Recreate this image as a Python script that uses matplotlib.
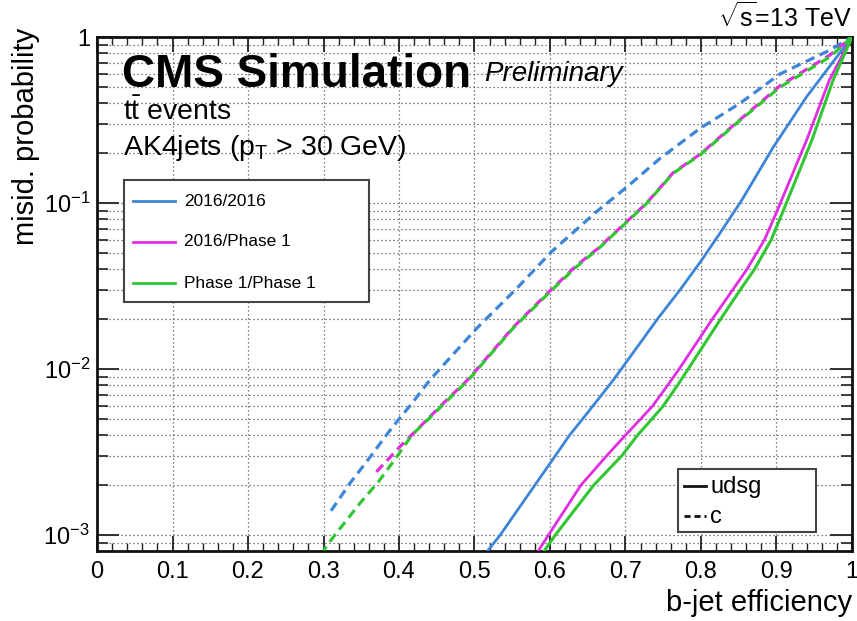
import numpy as np
import matplotlib
matplotlib.use("Agg")
import matplotlib.pyplot as plt
from matplotlib.patches import Rectangle
from matplotlib.lines import Line2D
from matplotlib.ticker import FixedLocator, NullFormatter

plt.rcParams['font.family'] = ['Liberation Sans', 'DejaVu Sans']
plt.rcParams['mathtext.fontset'] = 'custom'
plt.rcParams['mathtext.rm'] = 'Liberation Sans'
plt.rcParams['mathtext.it'] = 'Liberation Sans:italic'
plt.rcParams['mathtext.bf'] = 'Liberation Sans:bold'

# ---- data (b-jet efficiency, misid. probability) ----
blue_udsg_x = [0.518, 0.534, 0.580, 0.600, 0.626, 0.649, 0.684, 0.743, 0.772, 0.801, 0.825, 0.854, 0.896, 0.940, 0.980, 1.000]
blue_udsg_y = [8.1e-4, 1.0e-3, 2.0e-3, 2.7e-3, 4.0e-3, 5.4e-3, 8.6e-3, 2.02e-2, 2.99e-2, 4.54e-2, 6.57e-2, 0.104, 0.218, 0.437, 0.76, 1.0]

mag_udsg_x = [0.585, 0.598, 0.641, 0.675, 0.700, 0.720, 0.736, 0.756, 0.771, 0.815, 0.842, 0.861, 0.884, 0.901, 0.940, 0.970, 1.000]
mag_udsg_y = [8.1e-4, 1.0e-3, 2.0e-3, 3.0e-3, 4.0e-3, 5.0e-3, 6.0e-3, 8.0e-3, 1.0e-2, 2.0e-2, 3.0e-2, 4.0e-2, 6.0e-2, 9.0e-2, 0.24, 0.55, 1.0]

grn_udsg_x = [0.593, 0.607, 0.658, 0.695, 0.716, 0.735, 0.750, 0.769, 0.783, 0.826, 0.852, 0.871, 0.893, 0.909, 0.947, 0.975, 1.000]
grn_udsg_y = [8.1e-4, 1.0e-3, 2.0e-3, 3.0e-3, 4.0e-3, 5.0e-3, 6.0e-3, 8.0e-3, 1.0e-2, 2.0e-2, 3.0e-2, 4.0e-2, 6.0e-2, 9.0e-2, 0.24, 0.55, 1.0]

blue_c_x = [0.310, 0.335, 0.362, 0.385, 0.400, 0.417, 0.441, 0.503, 0.556, 0.602, 0.662, 0.702, 0.746, 0.799, 0.852, 0.905, 0.971, 1.000]
blue_c_y = [1.4e-3, 2.05e-3, 2.96e-3, 4.1e-3, 5.0e-3, 6.2e-3, 8.6e-3, 1.76e-2, 3.06e-2, 5.09e-2, 8.9e-2, 0.125, 0.186, 0.282, 0.40, 0.60, 0.835, 1.0]

mag_c_x = [0.370, 0.401, 0.419, 0.437, 0.463, 0.492, 0.551, 0.598, 0.635, 0.664, 0.728, 0.763, 0.799, 0.847, 0.905, 0.971, 1.000]
mag_c_y = [2.4e-3, 3.4e-3, 4.1e-3, 4.95e-3, 6.5e-3, 8.7e-3, 1.78e-2, 2.9e-2, 4.2e-2, 5.35e-2, 0.100, 0.152, 0.197, 0.305, 0.51, 0.78, 1.0]

grn_c_x = [0.300, 0.315, 0.348, 0.373, 0.397, 0.417, 0.437, 0.463, 0.492, 0.551, 0.598, 0.635, 0.664, 0.728, 0.763, 0.799, 0.847, 0.905, 0.971, 1.000]
grn_c_y = [8.1e-4, 1.0e-3, 1.55e-3, 2.1e-3, 2.96e-3, 4.0e-3, 4.9e-3, 6.4e-3, 8.6e-3, 1.76e-2, 2.86e-2, 4.13e-2, 5.3e-2, 0.0995, 0.151, 0.195, 0.302, 0.50, 0.76, 1.0]

series_labels = ["2016/2016", "2016/Phase 1", "Phase 1/Phase 1"]
flavour_labels = ["udsg", "c"]
x_ticks = [0, 0.1, 0.2, 0.3, 0.4, 0.5, 0.6, 0.7, 0.8, 0.9, 1.0]
x_ticklabels = ["0", "0.1", "0.2", "0.3", "0.4", "0.5", "0.6", "0.7", "0.8", "0.9", "1"]
y_ticks = [1e-3, 1e-2, 1e-1, 1.0]
y_ticklabels = [r"$10^{-3}$", r"$10^{-2}$", r"$10^{-1}$", "1"]

BLUE = '#3d85d6'
MAG = '#e02ee0'
GRN = '#33c633'

W, H = 857, 621
fig = plt.figure(figsize=(W / 100, H / 100), dpi=100)

def fx(x):
    return x / W

def fy(y):
    return 1 - y / H

L, R, T, B = 97, 852, 37, 551
ax = fig.add_axes([fx(L), fy(B), (R - L) / W, (B - T) / H])
ax.set_yscale('log')
ax.set_xlim(0, 1)
ax.set_ylim(10 ** -3.096, 1.0)

# grid
gkw = dict(color='#555555', lw=0.9, linestyle=(0, (1, 2.2)), zorder=0)
for xv in x_ticks[1:-1]:
    ax.axvline(xv, **gkw)
minor_y = [m * 10.0 ** e for e in (-4, -3, -2, -1) for m in range(1, 10)]
for yv in minor_y:
    if 10 ** -3.096 < yv < 1.0:
        ax.axhline(yv, **gkw)

ax.plot(blue_udsg_x, blue_udsg_y, color=BLUE, lw=2.0, zorder=3)
ax.plot(mag_udsg_x, mag_udsg_y, color=MAG, lw=2.0, zorder=3)
ax.plot(grn_udsg_x, grn_udsg_y, color=GRN, lw=2.2, zorder=3)
ax.plot(blue_c_x, blue_c_y, color=BLUE, lw=2.3, linestyle=(0, (3.0, 1.8)), zorder=3)
ax.plot(mag_c_x, mag_c_y, color=MAG, lw=2.3, linestyle=(0, (3.0, 1.8)), zorder=3)
ax.plot(grn_c_x, grn_c_y, color=GRN, lw=2.3, linestyle=(1.5, (3.0, 1.8)), zorder=3)

# ticks
ax.set_xticks(x_ticks)
ax.set_xticklabels(x_ticklabels)
ax.xaxis.set_minor_locator(FixedLocator(np.arange(0, 1.0001, 0.02)))
ax.set_yticks(y_ticks)
ax.set_yticklabels(y_ticklabels)
ax.yaxis.set_minor_locator(FixedLocator(minor_y))
ax.yaxis.set_minor_formatter(NullFormatter())
ax.tick_params(axis='both', which='both', direction='in', top=True, right=True, color='#222222')
ax.tick_params(axis='x', which='major', length=11, width=1.3, labelsize=17, pad=7)
ax.tick_params(axis='x', which='minor', length=6, width=1.0)
ax.tick_params(axis='y', which='major', length=16, width=1.3, labelsize=17, pad=5)
ax.tick_params(axis='y', which='minor', length=8, width=1.2)
for s in ax.spines.values():
    s.set_linewidth(2.0)
    s.set_color('#111111')

# texts
fig.text(fx(122), fy(87), "CMS Simulation", fontsize=33, fontweight='bold', ha='left', va='baseline')
fig.text(fx(484), fy(81), "Preliminary", fontsize=20, style='italic', ha='left', va='baseline')
fig.text(fx(123), fy(120), r"t$\mathrm{\bar{t}}$ events", fontsize=20.5, ha='left', va='baseline')
fig.text(fx(123), fy(155), r"AK4jets (p$_{\mathrm{T}}$ > 30 GeV)", fontsize=20.5, ha='left', va='baseline')
fig.text(fx(852), fy(27), r"$\sqrt{\mathrm{s}}$=13 TeV", fontsize=18, ha='right', va='baseline')
fig.text(fx(26), fy(28), "misid. probability", fontsize=21, rotation=90, ha='center', va='top')
fig.text(fx(852), fy(603), "b-jet efficiency", fontsize=21, ha='right', va='center')

# legend 1
fig.patches.append(Rectangle((fx(124), fy(302)), (369 - 124) / W, (302 - 180) / H,
                             transform=fig.transFigure, fill=True, facecolor='white',
                             edgecolor='#444444', lw=1.5, zorder=5))
for lab, col, yy in zip(series_labels, [BLUE, MAG, GRN], [201, 242, 283]):
    fig.lines.append(Line2D([fx(133), fx(175)], [fy(yy), fy(yy)], color=col, lw=2.0,
                            transform=fig.transFigure, zorder=6))
    fig.text(fx(184), fy(yy), lab, fontsize=12.4, ha='left', va='center', zorder=6)

# legend 2
fig.patches.append(Rectangle((fx(678), fy(532)), (816 - 678) / W, (532 - 469) / H,
                             transform=fig.transFigure, fill=True, facecolor='white',
                             edgecolor='#444444', lw=1.5, zorder=5))
for lab, ls, yy in zip(flavour_labels, ['-', (0, (2.2, 1.4))], [486, 516]):
    fig.lines.append(Line2D([fx(684), fx(706)], [fy(yy), fy(yy)], color='#111111', lw=2.0,
                            linestyle=ls, transform=fig.transFigure, zorder=6))
    fig.text(fx(710), fy(yy + 1), lab, fontsize=17, ha='left', va='center', zorder=6)

fig.savefig("out.png", dpi=100)
